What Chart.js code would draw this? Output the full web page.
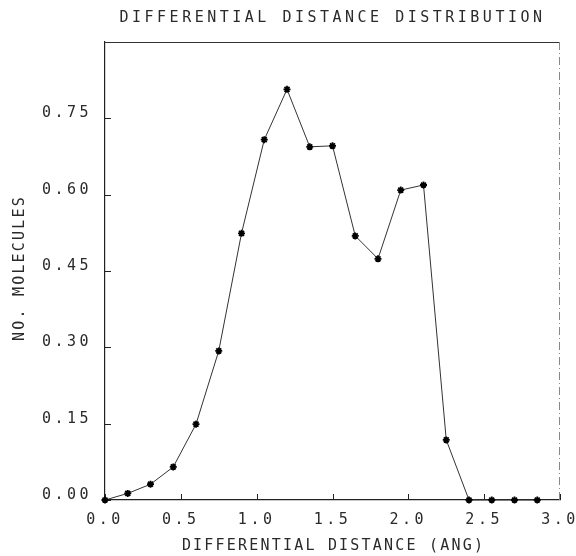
<!DOCTYPE html>
<html>
<head>
<meta charset="utf-8">
<script src="https://cdn.jsdelivr.net/npm/chart.js@4/dist/chart.umd.min.js"></script>
<style>
  html, body { margin: 0; padding: 0; background: #fff; }
  #wrap { width: 576px; height: 556px; position: relative; }
</style>
</head>
<body>
<div id="wrap"><canvas id="c"></canvas></div>
<script>
// ---- data ----
const distances = [0.00, 0.15, 0.30, 0.45, 0.60, 0.75, 0.90, 1.05, 1.20, 1.35,
                   1.50, 1.65, 1.80, 1.95, 2.10, 2.25, 2.40, 2.55, 2.70, 2.85];
const molecules = [0.000, 0.013, 0.031, 0.065, 0.149, 0.293, 0.524, 0.708, 0.807, 0.694,
                   0.696, 0.519, 0.474, 0.609, 0.619, 0.118, 0.000, 0.000, 0.000, 0.000];
const xTickValues = [0.0, 0.5, 1.0, 1.5, 2.0, 2.5, 3.0];
const yTickValues = [0.00, 0.15, 0.30, 0.45, 0.60, 0.75];
const titleText = 'DIFFERENTIAL DISTANCE DISTRIBUTION';
const xTitleText = 'DIFFERENTIAL DISTANCE (ANG)';
const yTitleText = 'NO. MOLECULES';

const INK = '#2a2a2a';
const FAMILY = '"DejaVu Sans Mono", "Liberation Mono", monospace';
const FONT = { family: FAMILY, size: 15, weight: 'normal', lineHeight: 1.2 };
const SPACING = '3.5px';
const AXIS_TITLE_SPACING = '2.2px';

const spacingPlugin = {
  id: 'spacing',
  beforeUpdate(chart) { chart.ctx.letterSpacing = SPACING; },
  beforeLayout(chart) { chart.ctx.letterSpacing = SPACING; },
  beforeDraw(chart) { chart.ctx.letterSpacing = SPACING; }
};

const framePlugin = {
  id: 'frame',
  beforeDatasetsDraw(chart) {
    const { ctx, chartArea: a, scales: { x, y } } = chart;
    ctx.save();
    ctx.lineWidth = 1;
    ctx.strokeStyle = '#333';
    ctx.beginPath();
    ctx.moveTo(a.left, a.top + 0.5);
    ctx.lineTo(a.right, a.top + 0.5);
    ctx.stroke();
    ctx.strokeStyle = '#888';
    ctx.setLineDash([8, 3, 1, 3]);
    ctx.beginPath();
    ctx.moveTo(a.right - 0.5, a.top);
    ctx.lineTo(a.right - 0.5, a.bottom);
    ctx.stroke();
    ctx.setLineDash([]);
    ctx.strokeStyle = '#222';
    xTickValues.forEach(v => {
      const px = Math.round(x.getPixelForValue(v)) + 0.5;
      ctx.beginPath();
      ctx.moveTo(px, a.bottom);
      ctx.lineTo(px, a.bottom - 6);
      ctx.stroke();
    });
    yTickValues.forEach(v => {
      const py = Math.round(y.getPixelForValue(v)) + 0.5;
      ctx.beginPath();
      ctx.moveTo(a.left, py);
      ctx.lineTo(a.left + 6, py);
      ctx.stroke();
    });
    ctx.restore();
  },
  afterDraw(chart) {
    const { ctx, chartArea: a } = chart;
    ctx.save();
    ctx.letterSpacing = AXIS_TITLE_SPACING;
    ctx.font = `normal 15px ${FAMILY}`;
    ctx.fillStyle = INK;
    ctx.textAlign = 'center';
    ctx.textBaseline = 'middle';
    // x axis title
    ctx.fillText(xTitleText, (a.left + a.right) / 2 + 1, 546.5);
    // y axis title
    ctx.translate(20, (a.top + a.bottom) / 2 - 2);
    ctx.rotate(-Math.PI / 2);
    ctx.fillText(yTitleText, 1, 0);
    ctx.restore();
  }
};

new Chart(document.getElementById('c'), {
  type: 'line',
  data: {
    datasets: [{
      data: distances.map((d, i) => ({ x: d, y: molecules[i] })),
      borderColor: '#333',
      borderWidth: 1,
      pointStyle: 'star',
      pointRadius: 3.5,
      pointBorderWidth: 1.8,
      pointBorderColor: '#000',
      pointBackgroundColor: '#000',
      tension: 0,
      clip: false
    }]
  },
  options: {
    responsive: true,
    maintainAspectRatio: false,
    animation: false,
    layout: { padding: { left: 0, right: 16, top: 0, bottom: 0 } },
    plugins: {
      legend: { display: false },
      tooltip: { enabled: false },
      title: {
        display: true,
        fullSize: false,
        text: titleText,
        color: INK,
        font: FONT,
        padding: { top: 9, bottom: 15 }
      }
    },
    scales: {
      x: {
        type: 'linear',
        min: 0, max: 3,
        afterBuildTicks(scale) { scale.ticks = xTickValues.map(v => ({ value: v })); },
        afterFit(scale) { scale.height = 56; scale.paddingLeft = 0; scale.paddingRight = 0; },
        ticks: {
          color: INK, font: FONT, padding: 11, maxRotation: 0,
          callback: v => Number(v).toFixed(1)
        },
        grid: { display: true, drawOnChartArea: false, drawTicks: false },
        border: { display: true, color: '#222', width: 1.2 },
        title: { display: false, text: xTitleText }
      },
      y: {
        type: 'linear',
        min: 0, max: 0.9,
        afterBuildTicks(scale) { scale.ticks = yTickValues.map(v => ({ value: v })); },
        afterFit(scale) { scale.width = 105; scale.paddingTop = 0; scale.paddingBottom = 0; },
        ticks: {
          color: INK, font: FONT, padding: 13, labelOffset: -5,
          callback: v => Number(v).toFixed(2)
        },
        grid: { display: true, drawOnChartArea: false, drawTicks: false },
        border: { display: true, color: '#222', width: 1.2 },
        title: { display: false, text: yTitleText }
      }
    }
  },
  plugins: [spacingPlugin, framePlugin]
});
</script>
</body>
</html>
